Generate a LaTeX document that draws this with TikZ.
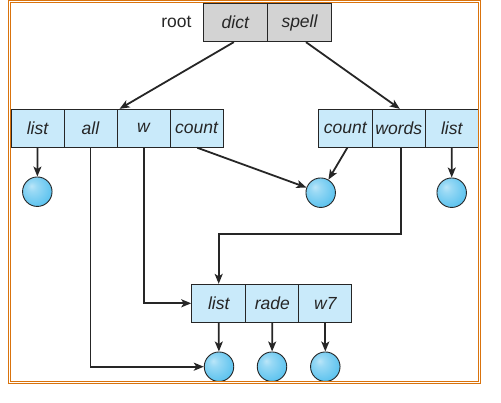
\documentclass[tikz,border=0pt]{standalone}
\usepackage{fontspec}
\setmainfont{Liberation Sans}
\usetikzlibrary{arrows.meta}
\definecolor{cellblue}{HTML}{C9EAFA}
\definecolor{rootgray}{HTML}{D3D3D3}
\definecolor{frameor}{HTML}{D9730D}
\definecolor{linegray}{HTML}{262626}
\definecolor{ballblue}{HTML}{55C0EE}
\pgfdeclareradialshading{bubble}{\pgfpoint{-10bp}{10bp}}{color(0bp)=(white!60!ballblue); color(8bp)=(white!40!ballblue); color(30bp)=(ballblue!95!white); color(60bp)=(ballblue!92!black)}
\begin{document}
\begin{tikzpicture}[x=1pt,y=-1pt,
  cell/.style={draw=linegray, line width=0.9pt, fill=cellblue, minimum height=38pt,
    minimum width=53pt, inner sep=0pt, font=\fontsize{17.5}{20}\selectfont\itshape, text=black!85},
  rootcell/.style={cell, fill=rootgray, minimum height=38.4pt, minimum width=64.2pt},
  bubblenode/.style={circle, draw=linegray, line width=0.9pt, shading=bubble, minimum size=29.5pt, inner sep=0pt},
  arr/.style={draw=linegray, line width=1.8pt, -{Stealth[length=10pt,width=8pt,inset=2.5pt]}},
  frameline/.style={draw=frameor, line width=1pt}]
\useasboundingbox (0,0) rectangle (501,402);
% root
\node[rootcell] (d) at (235.3,22.5) {dict};
\node[rootcell] (s) at (299.5,22.5) {spell};
\node[font=\fontsize{17.5}{20}\selectfont, text=black!85, anchor=east] (rootlbl) at (195,22) {root};
% left node
\node[cell] (l1) at (37.5,128.3) {list};
\node[cell] (l2) at (90.5,128.3) {all};
\node[cell] (l3) at (143.5,128.3) {w};
\node[cell] (l4) at (196.5,128.3) {count};
% right node
\node[cell, minimum width=54pt] (r1) at (345.3,128.3) {count};
\node[cell] (r2) at (398.8,128.3) {words};
\node[cell] (r3) at (451.8,128.3) {list};
% bottom node
\node[cell, minimum width=54pt] (b1) at (218.7,303.3) {list};
\node[cell] (b2) at (272.3,303.3) {rade};
\node[cell] (b3) at (325.3,303.3) {w7};
% circles
\node[bubblenode] (c1) at (37.3,191.7) {};
\node[bubblenode] (c2) at (320.7,192.7) {};
\node[bubblenode] (c3) at (451.7,192.7) {};
\node[bubblenode] (c4) at (219,366.7) {};
\node[bubblenode] (c5) at (272,366.7) {};
\node[bubblenode] (c6) at (325.3,366.7) {};
% connectors
\draw[arr] ([xshift=-1.5pt]d.south) -- ([xshift=3pt]l3.north west);
\draw[arr] ([xshift=6.5pt]s.south) -- ([xshift=1pt]r2.north);
\draw[arr] (l1.south) -- (c1);
\draw[arr] (l2.south) |- (c4.west);
\draw[arr] ([xshift=0.8pt]l3.south) |- (b1.west);
\draw[arr] ([xshift=0.8pt]l4.south) -- (c2);
\draw[arr] ([xshift=2pt]r1.south) -- (c2);
\draw[arr] (r3.south) -- (c3);
\draw[arr] ([xshift=2pt]r2.south) |- ([yshift=50pt]b1.north) -- (b1.north);
\draw[arr] (b1.south) -- (c4);
\draw[arr] (b2.south) -- (c5);
\draw[arr] (b3.south) -- (c6);
% frame
\draw[frameline] (8.5,0.5) rectangle (480,383.5);
\draw[frameline] (10.5,2.5) rectangle (478,381.5);
\end{tikzpicture}
\end{document}
